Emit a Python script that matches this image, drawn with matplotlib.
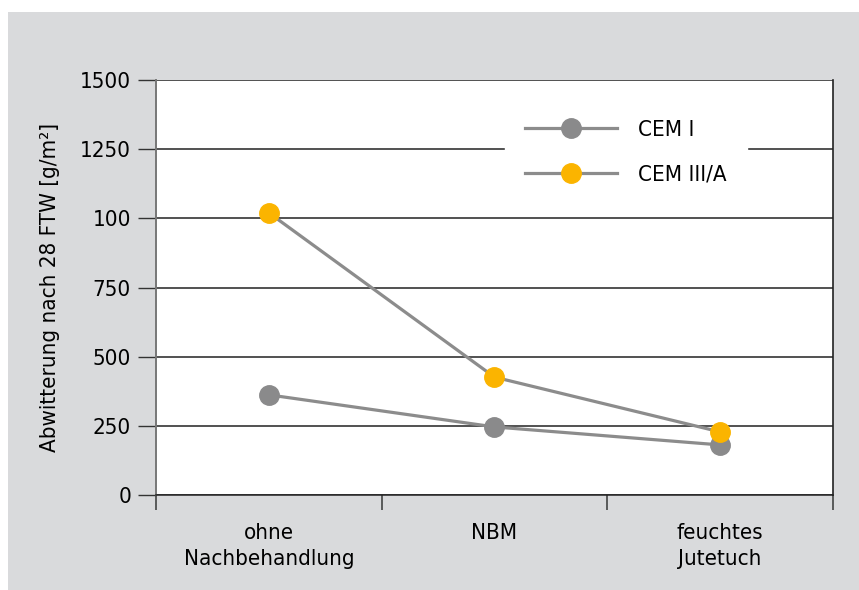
import matplotlib
matplotlib.use("Agg")
import matplotlib.pyplot as plt
from matplotlib.patches import Rectangle
from matplotlib.lines import Line2D
from matplotlib import font_manager

categories = ["ohne\nNachbehandlung", "NBM", "feuchtes\nJutetuch"]
cem_i = [362, 246, 181]
cem_iii_a = [1020, 426, 228]
series_names = ["CEM I", "CEM III/A"]
y_ticks = [0, 250, 500, 750, 1000, 1250, 1500]
y_tick_labels = ["0", "250", "500", "750", "100", "1250", "1500"]

cond = [f for f in font_manager.fontManager.ttflist
        if ("Condensed" in f.fname or "Narrow" in f.fname) and f.style == "normal"
        and f.weight in (400, "normal", "regular")]
fp = None
if cond:
    fp = cond[0].fname

W, H = 859, 590
fig = plt.figure(figsize=(W/100, H/100), dpi=100)
fig.patch.set_facecolor("white")
bg = Rectangle((8/W, 0), 1 - 8/W, 1 - 12/H, transform=fig.transFigure,
               facecolor="#d9dadc", edgecolor="none", zorder=-10)
fig.patches.append(bg)

FS = 14.5
def fprop(size=FS):
    if fp:
        return font_manager.FontProperties(fname=fp, size=size + 1.5)
    return font_manager.FontProperties(family="DejaVu Sans", size=size)

ax = fig.add_axes([156/W, 1 - 495/H, (833-156)/W, (495-80)/H])
ax.set_zorder(1)
ax.set_facecolor("white")
x = list(range(len(categories)))

grey = "#8a8a8b"
yellow = "#fbb400"
ax.plot(x, cem_i, color="#8c8c8c", lw=2.3, marker="o", ms=14,
        mfc=grey, mec=grey, zorder=3)
ax.plot(x, cem_iii_a, color="#8c8c8c", lw=2.3, marker="o", ms=14,
        mfc=yellow, mec=yellow, zorder=4)

ax.set_xlim(-0.5, len(categories) - 0.5)
ax.set_ylim(0, 1500)
ax.set_yticks(y_ticks)
ax.set_yticklabels(y_tick_labels, fontproperties=fprop())
for yv in y_ticks:
    ax.axhline(yv, color="#222222", lw=1.1, zorder=1)

ax.set_xticks([i - 0.5 for i in range(len(categories) + 1)])
ax.set_xticklabels([])
ax.set_xticks(x, minor=True)
ax.set_xticklabels(categories, minor=True, fontproperties=fprop(), linespacing=1.4)
ax.tick_params(axis="x", which="minor", length=0, pad=20)
ax.tick_params(axis="x", which="major", length=11, width=1.2, color="#444444", direction="out")
ax.tick_params(axis="y", length=13, width=1.0, color="#333333", pad=5)

ax.spines["top"].set_visible(False)
ax.spines["bottom"].set_color("#222222")
ax.spines["bottom"].set_linewidth(1.1)
ax.spines["left"].set_color("#777777")
ax.spines["left"].set_linewidth(1.4)
ax.spines["right"].set_color("#222222")
ax.spines["right"].set_linewidth(1.2)

ax.set_ylabel("Abwitterung nach 28 FTW [g/m²]", fontproperties=fprop(), labelpad=14)

handles = [Line2D([], [], color="#8c8c8c", lw=2.3, marker="o", ms=14, mfc=grey, mec=grey),
           Line2D([], [], color="#8c8c8c", lw=2.3, marker="o", ms=14, mfc=yellow, mec=yellow)]
leg = ax.legend(handles, series_names, loc="upper left",
                bbox_to_anchor=((505-156)/(833-156), 1 - (100-80)/415),
                frameon=True, fancybox=False, framealpha=1, edgecolor="white",
                facecolor="white", prop=fprop(), handlelength=4.15, handletextpad=0.95,
                labelspacing=1.1, borderpad=0.9, borderaxespad=0)
leg.set_zorder(5)

fig.savefig("out.png", dpi=100)
